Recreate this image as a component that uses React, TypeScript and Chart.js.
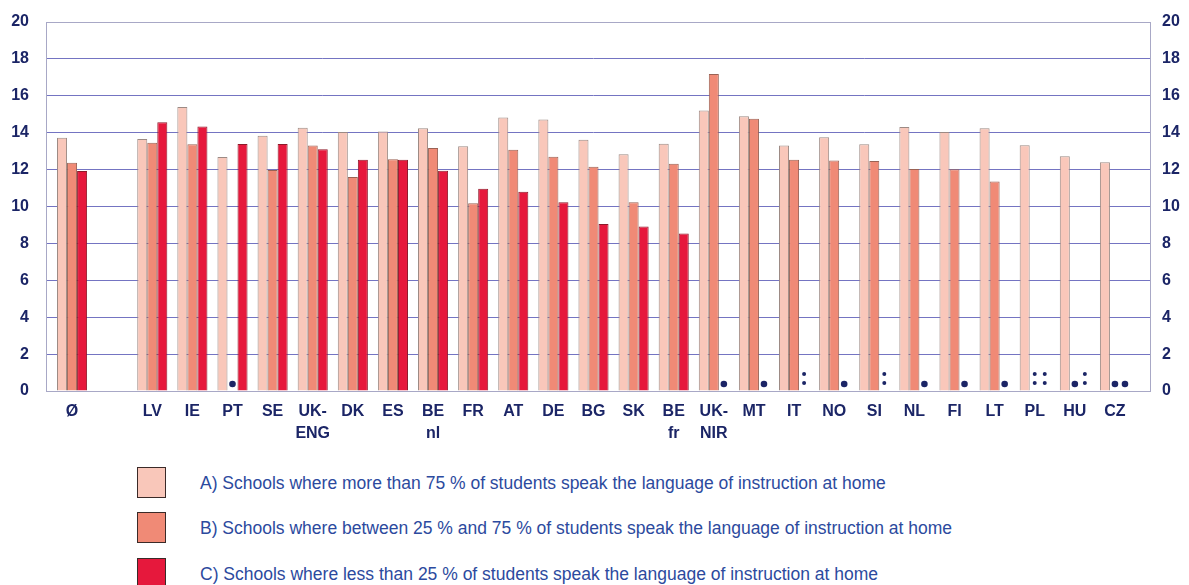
import React, { useEffect, useRef } from "react";
import { Chart, registerables } from "chart.js";

Chart.register(...registerables);

const categories: (string | string[])[] = [
  "Ø", "", "LV", "IE", "PT", "SE", ["UK-", "ENG"], "DK", "ES", ["BE", "nl"], "FR", "AT", "DE", "BG", "SK",
  ["BE", "fr"], ["UK-", "NIR"], "MT", "IT", "NO", "SI", "NL", "FI", "LT", "PL", "HU", "CZ",
];

const seriesA: (number | null)[] = [
  13.73, null, 13.66, 15.39, 12.68, 13.84, 14.27, 14.04, 14.07, 14.24, 13.26, 14.83, 14.72, 13.62, 12.83,
  13.4, 15.21, 14.89, 13.3, 13.75, 13.37, 14.31, 14.04, 14.24, 13.32, 12.72, 12.4,
];
const seriesB: (number | null)[] = [
  12.37, null, 13.46, 13.37, null, 11.98, 13.3, 11.6, 12.56, 13.17, 10.17, 13.08, 12.7, 12.16, 10.23,
  12.32, 17.18, 14.76, 12.53, 12.5, 12.47, 12.03, 12.02, 11.35, null, null, null,
];
const seriesC: (number | null)[] = [
  11.92, null, 14.56, 14.33, 13.39, 13.39, 13.1, 12.54, 12.54, 11.94, 10.96, 10.8, 10.23, 9.05, 8.91,
  8.53, null, null, null, null, null, null, null, null, null, null, null,
];
// "•" / ":" markers shown where a value is missing
const flagsB: string[] = [
  "", "", "", "", "•", "", "", "", "", "", "", "", "", "", "",
  "", "", "", "", "", "", "", "", "", ":", "•", "•",
];
const flagsC: string[] = [
  "", "", "", "", "", "", "", "", "", "", "", "", "", "", "",
  "", "•", "•", ":", "•", ":", "•", "•", "•", ":", ":", "•",
];

const yTicks: number[] = [0, 2, 4, 6, 8, 10, 12, 14, 16, 18, 20];

const legendLabels: string[] = [
  "A) Schools where more than 75 % of students speak the language of instruction at home",
  "B) Schools where between 25 % and 75 % of students speak the language of instruction at home",
  "C) Schools where less than 25 % of students speak the language of instruction at home",
];

const COLORS = ["#F9C7BA", "#F08A76", "#E6183C"];
const BORDERS = ["#9c8a84", "#9a6254", "#8e1a2a"];
const NAVY = "#1b2566";
const GRID = "#7474c2";
const FRAME = "#a8a8c6";
const FONT = "'Liberation Sans', Arial, sans-serif";

const markerPlugin = {
  id: "markers",
  afterDatasetsDraw(chart: any) {
    const ctx = chart.ctx;
    const y0 = chart.scales.y.getPixelForValue(0);
    const flagSets: { [k: number]: string[] } = { 1: flagsB, 2: flagsC };
    ctx.save();
    ctx.fillStyle = NAVY;
    Object.keys(flagSets).forEach((k) => {
      const d = Number(k);
      const meta = chart.getDatasetMeta(d);
      flagSets[d].forEach((f, i) => {
        if (!f) return;
        const el = meta.data[i];
        if (!el) return;
        const x = el.x;
        if (f === "•") {
          ctx.beginPath();
          ctx.arc(x, y0 - 7, 3.3, 0, Math.PI * 2);
          ctx.fill();
        } else {
          ctx.beginPath();
          ctx.arc(x, y0 - 17, 2, 0, Math.PI * 2);
          ctx.arc(x, y0 - 8, 2, 0, Math.PI * 2);
          ctx.fill();
        }
      });
    });
    ctx.restore();
  },
};

const framePlugin = {
  id: "frame",
  afterDraw(chart: any) {
    const { ctx, chartArea } = chart;
    ctx.save();
    ctx.strokeStyle = FRAME;
    ctx.lineWidth = 1;
    ctx.strokeRect(chartArea.left - 6 + 0.5, chartArea.top + 0.5, chartArea.right + 15 - (chartArea.left - 6), chartArea.bottom - chartArea.top);
    ctx.restore();
  },
};

export default function App() {
  const ref = useRef<HTMLCanvasElement>(null);

  useEffect(() => {
    if (!ref.current) return;
    const labels = ["A", "B", "C"];
    const data = [seriesA, seriesB, seriesC];
    const chart = new Chart(ref.current, {
      type: "bar",
      data: {
        labels: categories as any,
        datasets: data.map((d, k) => ({
          label: labels[k],
          data: d,
          backgroundColor: COLORS[k],
          borderColor: BORDERS[k],
          borderWidth: 1,
          categoryPercentage: 0.75,
          barPercentage: 1,
          yAxisID: "y",
        })),
      },
      options: {
        responsive: false,
        animation: false,
        layout: { padding: { top: 14, left: 0, right: 0, bottom: 0 } },
        plugins: { legend: { display: false }, tooltip: { enabled: false } },
        scales: {
          x: {
            type: "category",
            grid: { display: false, drawTicks: false },
            border: { display: false },
            ticks: {
              color: NAVY,
              font: { family: FONT, size: 16, weight: "bold", lineHeight: 1.35 },
              padding: 10,
              maxRotation: 0,
              autoSkip: false,
            },
            afterFit(scale: any) {
              scale.height = 62;
              scale.paddingLeft = 0;
              scale.paddingRight = 0;
            },
          },
          y: {
            position: "left",
            min: 0,
            max: 20,
            afterBuildTicks(scale: any) {
              scale.ticks = yTicks.map((v) => ({ value: v }));
            },
            grid: { color: GRID, lineWidth: 1, tickLength: 6, drawTicks: true },
            border: { display: false },
            ticks: { color: NAVY, font: { family: FONT, size: 16, weight: "bold" }, padding: 17 },
            afterFit(scale: any) {
              scale.width = 44;
              scale.paddingTop = 0;
              scale.paddingBottom = 0;
            },
          },
          y2: {
            position: "right",
            min: 0,
            max: 20,
            afterBuildTicks(scale: any) {
              scale.ticks = yTicks.map((v) => ({ value: v }));
            },
            grid: { color: GRID, lineWidth: 1, tickLength: 15, drawOnChartArea: false, drawTicks: true },
            border: { display: false },
            ticks: { color: NAVY, font: { family: FONT, size: 16, weight: "bold" }, padding: 12 },
            afterFit(scale: any) {
              scale.width = 46;
              scale.paddingTop = 0;
              scale.paddingBottom = 0;
            },
          },
        },
      } as any,
      plugins: [markerPlugin, framePlugin],
    });
    return () => chart.destroy();
  }, []);

  const boxTops = [458, 503, 549];
  return (
    <div style={{ position: "relative", width: 1173, height: 577, overflow: "hidden", fontFamily: FONT }}>
      <canvas ref={ref} width={1173} height={445} style={{ display: "block" }} />
      {legendLabels.map((t, k) => (
        <div key={k} style={{ position: "absolute", left: 129, top: boxTops[k], height: 32, display: "flex", alignItems: "center" }}>
          <div style={{ width: 29, height: 31, background: COLORS[k], border: "1.5px solid #3a2a28", boxSizing: "border-box" }} />
          <div style={{ marginLeft: 34, marginTop: 3, color: "#2c4a9e", fontSize: 17.5, whiteSpace: "nowrap" }}>{t}</div>
        </div>
      ))}
    </div>
  );
}
